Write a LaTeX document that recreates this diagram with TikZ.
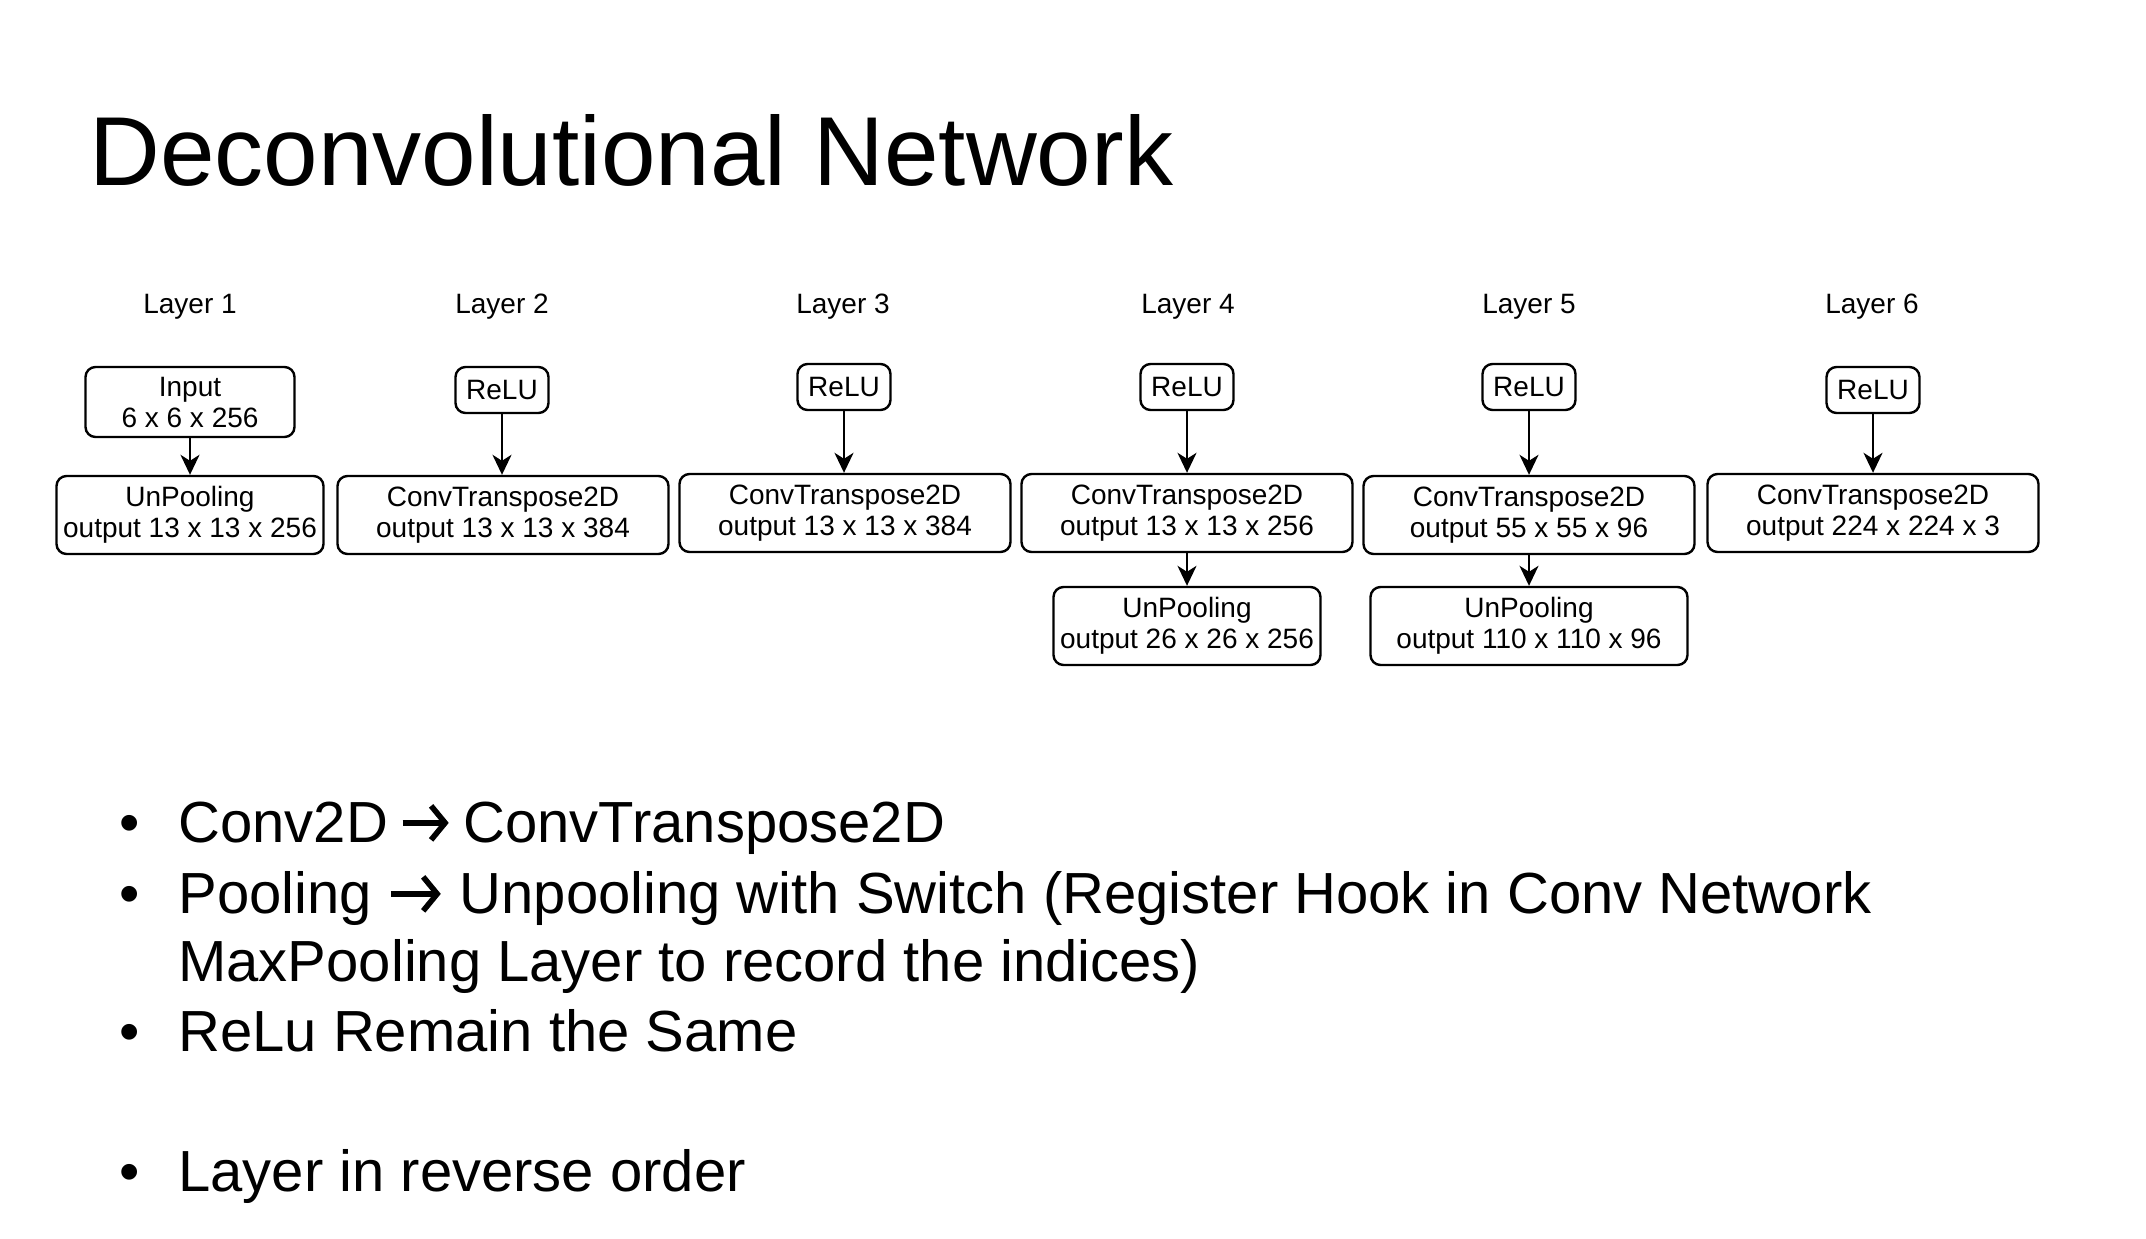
\documentclass[tikz,border=0pt]{standalone}
\usepackage{fontspec}
\setmainfont{Liberation Sans}
\usetikzlibrary{arrows.meta}
\newcommand{\harrow}[1][25pt]{\tikz[baseline=-0.33em]\draw[line width=2.8pt,-{Straight Barb[length=7pt,width=17pt]}] (0pt,0pt)--(#1,0pt);}
\begin{document}
\begin{tikzpicture}[x=0.5pt,y=-0.5pt,
  lbl/.style={inner sep=0pt,font=\fontsize{14}{16}\selectfont},
  box/.style={draw,rounded corners=5pt,line width=1.2pt,align=center,inner sep=0pt,font=\fontsize{14}{15.5}\selectfont},
  relu/.style={box,minimum width=46.5pt,minimum height=23pt},
  ctb/.style={box,minimum width=165.5pt,minimum height=39pt},
  arr/.style={line width=1.1pt,-{Stealth[length=10pt,width=9.5pt,inset=3pt]}},
  bul/.style={anchor=base,inner sep=0pt,font=\fontsize{29}{35}\selectfont},
  btxt/.style={anchor=base west,inner sep=0pt,font=\fontsize{29}{35}\selectfont}]
\fill[white] (0,0) rectangle (2146,1238);
\useasboundingbox (0,0) rectangle (2146,1238);
\node[anchor=base west,inner sep=0pt,font=\fontsize{49}{55}\selectfont] (title) at (89,185) {Deconvolutional Network};
% layer labels
\node[lbl] (l1) at (190,307) {Layer 1};
\node[lbl] (l2) at (502,307) {Layer 2};
\node[lbl] (l3) at (843,307) {Layer 3};
\node[lbl] (l4) at (1188,307) {Layer 4};
\node[lbl] (l5) at (1529,307) {Layer 5};
\node[lbl] (l6) at (1872,307) {Layer 6};
% layer 1
\node[box,minimum width=104.5pt,minimum height=35pt] (in1) at (190,402) {Input\\6 x 6 x 256};
\node[box,minimum width=133.5pt,minimum height=39pt] (up1) at (190,515) {UnPooling\\output 13 x 13 x 256};
% layer 2
\node[relu] (r2) at (502,390) {ReLU};
\node[ctb] (ct2) at (503,515) {ConvTranspose2D\\output 13 x 13 x 384};
% layer 3
\node[relu] (r3) at (844,387) {ReLU};
\node[ctb] (ct3) at (845,513) {ConvTranspose2D\\output 13 x 13 x 384};
% layer 4
\node[relu] (r4) at (1187,387) {ReLU};
\node[ctb] (ct4) at (1187,513) {ConvTranspose2D\\output 13 x 13 x 256};
\node[box,minimum width=133.5pt,minimum height=39pt] (up4) at (1187,626) {UnPooling\\output 26 x 26 x 256};
% layer 5
\node[relu] (r5) at (1529,387) {ReLU};
\node[ctb] (ct5) at (1529,515) {ConvTranspose2D\\output 55 x 55 x 96};
\node[box,minimum width=158.5pt,minimum height=39pt] (up5) at (1529,626) {UnPooling\\output 110 x 110 x 96};
% layer 6
\node[relu] (r6) at (1873,390) {ReLU};
\node[ctb] (ct6) at (1873,513) {ConvTranspose2D\\output 224 x 224 x 3};
% connectors
\draw[arr] (in1) -- (in1 |- up1.north);
\draw[arr] (r2) -- (r2 |- ct2.north);
\draw[arr] (r3) -- (r3 |- ct3.north);
\draw[arr] (r4) -- (r4 |- ct4.north);
\draw[arr] (ct4) -- (ct4 |- up4.north);
\draw[arr] (r5) -- (r5 |- ct5.north);
\draw[arr] (ct5) -- (ct5 |- up5.north);
\draw[arr] (r6) -- (r6 |- ct6.north);
% bullets
\node[bul] (b1) at (130,842) {•};
\node[btxt] (t1) at (178,842) {Conv2D\hspace{6pt}\harrow[23pt]\hspace{6pt}ConvTranspose2D};
\node[bul] (b2) at (130,913) {•};
\node[btxt] (t2) at (178,913) {Pooling \harrow{} Unpooling with Switch (Register Hook in Conv Network};
\node[btxt] (t3) at (178,981) {MaxPooling Layer to record the indices)};
\node[bul] (b4) at (130,1051) {•};
\node[btxt] (t4) at (178,1051) {ReLu Remain the Same};
\node[bul] (b5) at (130,1191) {•};
\node[btxt] (t5) at (178,1191) {Layer in reverse order};
\end{tikzpicture}
\end{document}
